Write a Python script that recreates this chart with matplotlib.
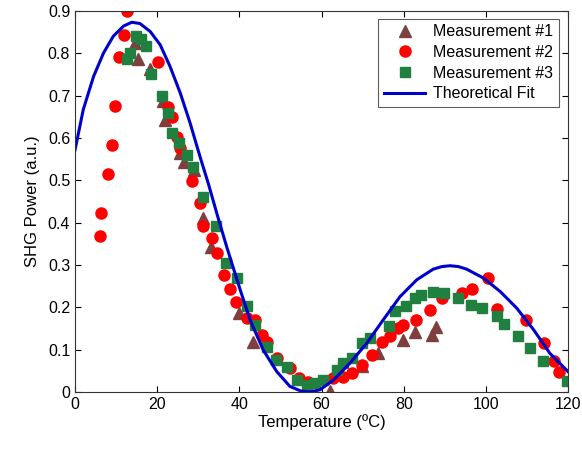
import matplotlib.pyplot as plt

plt.rcParams['font.family'] = ['Liberation Sans', 'DejaVu Sans']

# Measurement #1 (triangles)
m1_t = [14.6, 15.4, 18.3, 21.5, 21.9, 25.6, 26.4, 29.0, 31.1, 33.0, 39.8, 43.4, 62.1,
        69.8, 73.8, 79.9, 82.8, 86.8, 87.9]
m1_p = [0.824, 0.786, 0.762, 0.686, 0.643, 0.564, 0.544, 0.524, 0.410, 0.343, 0.187, 0.117, 0.003,
        0.061, 0.091, 0.123, 0.142, 0.135, 0.154]

# Measurement #2 (circles)
m2_t = [6.1, 6.3, 8.0, 8.9, 9.7, 10.8, 12.0, 12.7, 20.3, 22.7, 23.5, 24.8, 25.6, 28.4,
        30.3, 31.2, 33.3, 34.5, 36.3, 37.7, 39.2, 41.8, 43.8, 45.4, 46.8, 49.1, 52.2,
        54.4, 56.8, 62.9, 65.2, 67.4, 69.8, 72.2, 74.6, 76.7, 78.7, 79.9, 83.0, 86.3,
        89.3, 94.1, 96.6, 100.6, 102.8, 109.8, 114.2, 116.5, 117.8]
m2_p = [0.369, 0.423, 0.515, 0.583, 0.676, 0.792, 0.843, 0.900, 0.778, 0.674, 0.650, 0.603,
        0.576, 0.497, 0.446, 0.392, 0.363, 0.329, 0.276, 0.243, 0.213, 0.174, 0.170, 0.135,
        0.117, 0.080, 0.056, 0.032, 0.024, 0.032, 0.036, 0.044, 0.064, 0.087, 0.119, 0.131,
        0.151, 0.158, 0.170, 0.194, 0.221, 0.233, 0.243, 0.269, 0.196, 0.170, 0.115, 0.072,
        0.048]

# Measurement #3 (squares)
m3_t = [12.7, 13.4, 14.8, 16.0, 17.3, 18.4, 21.1, 22.5, 23.5, 25.4, 27.3, 28.8, 31.2,
        34.4, 36.8, 39.5, 41.8, 43.8, 46.7, 48.9, 51.5, 54.0, 56.4, 58.4, 60.4, 63.7,
        65.2, 67.4, 69.8, 71.8, 76.3, 77.9, 80.6, 82.8, 84.1, 87.1, 89.9, 93.3, 96.3,
        99.0, 102.6, 104.3, 107.9, 110.8, 114.0, 119.7]
m3_p = [0.786, 0.800, 0.841, 0.833, 0.816, 0.751, 0.698, 0.658, 0.611, 0.588, 0.560, 0.532,
        0.460, 0.391, 0.304, 0.269, 0.202, 0.158, 0.107, 0.076, 0.058, 0.028, 0.017, 0.021,
        0.028, 0.052, 0.068, 0.080, 0.115, 0.127, 0.156, 0.190, 0.202, 0.221, 0.229, 0.235,
        0.233, 0.221, 0.206, 0.198, 0.180, 0.160, 0.131, 0.103, 0.072, 0.025]

# Theoretical fit
fit_t = [0, 2.0, 4.5, 6.9, 9.3, 11.8, 13.8, 15.8, 18.3, 20.7, 23.1, 25.6, 28.0, 30.4,
         32.5, 34.7, 36.9, 40.2, 42.6, 45.8, 49.1, 52.3, 55.0, 57.2, 59.6, 62.9, 66.9,
         71.0, 75.0, 79.1, 83.2, 87.2, 89.3, 91.3, 93.3, 95.3, 99.4, 103.5, 107.5, 111.6,
         115.6, 120]
fit_p = [0.572, 0.667, 0.745, 0.800, 0.840, 0.864, 0.873, 0.870, 0.851, 0.820, 0.769, 0.706,
         0.635, 0.556, 0.490, 0.415, 0.343, 0.241, 0.170, 0.099, 0.048, 0.013, 0.002, 0.0,
         0.005, 0.028, 0.068, 0.115, 0.170, 0.225, 0.265, 0.290, 0.296, 0.298, 0.296, 0.290,
         0.269, 0.237, 0.198, 0.147, 0.091, 0.048]

fig = plt.figure(figsize=(5.82, 4.51), dpi=100)
ax = fig.add_axes([0.129, 0.131, 0.847, 0.845])

ax.plot(m1_t, m1_p, '^', color='#7d3f3f', markersize=8.5, linestyle='none', label='Measurement #1')
ax.plot(m2_t, m2_p, 'o', color='#ff0000', markersize=8, linestyle='none', label='Measurement #2')
ax.plot(m3_t, m3_p, 's', color='#1f8040', markersize=7, linestyle='none', label='Measurement #3')
ax.plot(fit_t, fit_p, '-', color='#0000cc', linewidth=2.2, label='Theoretical Fit')

ax.set_xlim(0, 120)
ax.set_ylim(0, 0.9)
ax.set_xticks(range(0, 121, 20))
ax.set_yticks([i / 10 for i in range(10)])
ax.set_yticklabels(['0'] + ['%.1f' % (i / 10) for i in range(1, 10)])
ax.tick_params(direction='in', top=True, right=True, labelsize=11.5, length=4)
for s in ax.spines.values():
    s.set_color('#333333')

ax.set_xlabel('Temperature (ºC)', fontsize=12, labelpad=2)
ax.set_ylabel('SHG Power (a.u.)', fontsize=12, labelpad=6)

leg = ax.legend(loc='upper right', fontsize=11.5, frameon=True, fancybox=False,
                edgecolor='#333333', handlelength=2.6, borderpad=0.35,
                labelspacing=0.35, handletextpad=0.5, bbox_to_anchor=(0.998, 1.0))
leg.get_frame().set_linewidth(0.8)

fig.savefig('out.png', dpi=100)
